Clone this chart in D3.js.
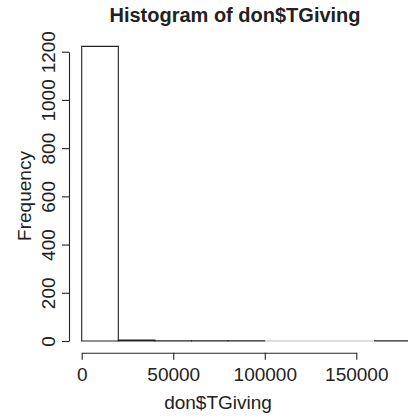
<!DOCTYPE html>
<html>
<head>
<meta charset="utf-8">
<script src="https://cdn.jsdelivr.net/npm/d3@7"></script>
<style>
  body { margin: 0; background: #fff; }
  svg { display: block; font-family: 'Liberation Sans', Arial, sans-serif; }
</style>
</head>
<body>
<div id="chart"></div>
<script>
// data
const binStarts = [0, 20000, 40000, 60000, 80000, 100000, 120000, 140000, 160000]
const binWidth = 20000
const counts = [1222, 4, 1, 1, 1, 0, 0, 0, 1]
const xTicks = [0, 50000, 100000, 150000]
const yTicks = [0, 200, 400, 600, 800, 1000, 1200]

// size
const W = 408
const H = 420
const ink = '#222'

// scale
const x = d3.scaleLinear().domain([0, 150000]).range([81.7, 356.3])
const y = d3.scaleLinear().domain([0, 1200]).range([341, 51.7])

const svg = d3
  .select('#chart')
  .append('svg')
  .attr('width', W)
  .attr('height', H)

// bars (paths, so empty bins still show as a line like R does)
svg
  .append('g')
  .selectAll('path')
  .data(binStarts)
  .join('path')
  .attr('d', (d, i) => {
    const p = d3.path()
    p.rect(x(d), y(counts[i]), x(d + binWidth) - x(d), y(0) - y(counts[i]))
    return p.toString()
  })
  .attr('fill', 'none')
  .attr('stroke', (d, i) => (counts[i] === 0 ? '#bbb' : ink))
  .attr('stroke-width', 1.1)

// x-axis
const xAxis = svg
  .append('g')
  .attr('transform', 'translate(0, 352.7)')
  .call(d3.axisBottom(x).tickValues(xTicks).tickFormat(d3.format('d')).tickSize(7).tickSizeOuter(0).tickPadding(8))
xAxis.selectAll('path, line').attr('stroke', ink).attr('stroke-width', 1.1)
xAxis.selectAll('text').attr('font-size', '19px').attr('fill', ink).attr('font-family', null)

// y-axis
const yAxis = svg
  .append('g')
  .attr('transform', 'translate(69, 0)')
  .call(d3.axisLeft(y).tickValues(yTicks).tickFormat(d3.format('d')).tickSize(7).tickSizeOuter(0))
yAxis.selectAll('path, line').attr('stroke', ink).attr('stroke-width', 1.1)
yAxis
  .selectAll('text')
  .attr('font-size', '19px')
  .attr('fill', ink)
  .attr('font-family', null)
  .attr('transform', 'rotate(-90)')
  .attr('text-anchor', 'middle')
  .attr('x', 0)
  .attr('y', -14)
  .attr('dy', 0)

// title
svg
  .append('text')
  .attr('x', 235)
  .attr('y', 22)
  .attr('text-anchor', 'middle')
  .attr('font-size', '20px')
  .attr('font-weight', 'bold')
  .attr('fill', ink)
  .text('Histogram of don$TGiving')

// x-axis label
svg
  .append('text')
  .attr('x', 218)
  .attr('y', 409)
  .attr('text-anchor', 'middle')
  .attr('font-size', '19px')
  .attr('fill', ink)
  .text('don$TGiving')

// y-axis label
svg
  .append('text')
  .attr('transform', 'translate(31, 196) rotate(-90)')
  .attr('text-anchor', 'middle')
  .attr('font-size', '19px')
  .attr('fill', ink)
  .text('Frequency')
</script>
</body>
</html>
